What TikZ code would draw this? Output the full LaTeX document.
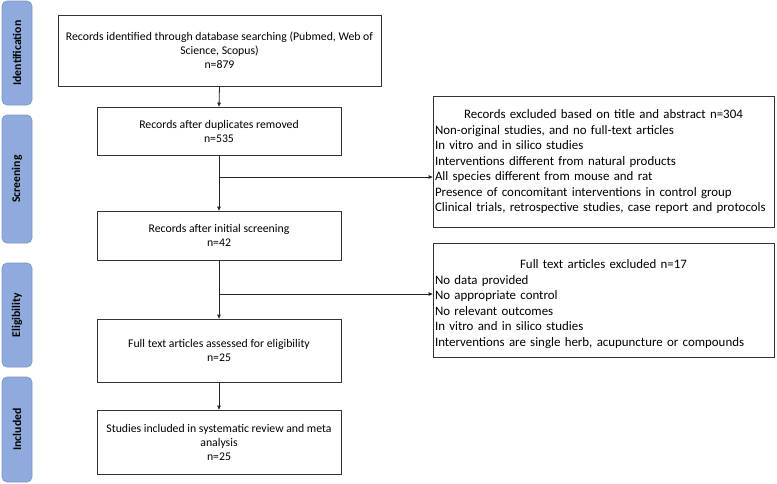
\documentclass[tikz,border=0pt]{standalone}
\usepackage{fontspec}
\setmainfont{Carlito}
\usetikzlibrary{arrows.meta}
\definecolor{tabfill}{HTML}{8FAADC}
\definecolor{tabdraw}{HTML}{7A95C6}
\tikzset{
  box/.style={draw=black!80, line width=0.8pt, inner sep=0pt, font=\fontsize{11.75}{14}\selectfont},
  rbox/.style={draw=black!80, line width=0.8pt, inner sep=0pt, font=\fontsize{12.9}{15.5}\selectfont},
  tab/.style={draw=tabdraw, fill=tabfill, rounded corners=5pt, line width=0.6pt, font=\fontsize{11.75}{12}\selectfont\bfseries, inner sep=0pt},
  arr/.style={-{Triangle[length=4pt,width=3.6pt]}, line width=0.8pt, black!85}
}
\begin{document}
\begin{tikzpicture}[x=1pt,y=-1pt]
\useasboundingbox (0,0) rectangle (777,483);
% side tabs
\node[tab, minimum width=30pt, minimum height=104pt] (t1) at (17,53) {\rotatebox{90}{Identification}};
\node[tab, minimum width=30pt, minimum height=128pt] (t2) at (17,179) {\rotatebox{90}{Screening}};
\node[tab, minimum width=30pt, minimum height=104pt] (t3) at (17,315) {\rotatebox{90}{Eligibility}};
\node[tab, minimum width=30pt, minimum height=105pt] (t4) at (17,429.5) {\rotatebox{90}{Included}};
% main boxes
\node[box, minimum width=323pt, minimum height=71pt, align=center] (b1) at (219.5,50.5)
  {Records identified through database searching (Pubmed, Web of\\ Science, Scopus)\\ n=879};
\node[box, minimum width=244pt, minimum height=48pt, align=center] (b2) at (219,131)
  {Records after duplicates removed\\ n=535};
\node[box, minimum width=244pt, minimum height=49pt, align=center] (b3) at (219,235.5)
  {Records after initial screening\\ n=42};
\node[box, minimum width=244pt, minimum height=63pt, align=center] (b4) at (219,350.5)
  {Full text articles assessed for eligibility\\ n=25};
\node[box, minimum width=244pt, minimum height=64pt, align=center] (b5) at (219,442)
  {Studies included in systematic review and meta\\ analysis\\ n=25};
% right boxes
\node[rbox, minimum width=341pt, minimum height=131pt, text width=337pt, align=left] (r1) at (603.5,162)
  {\makebox[337pt][c]{Records excluded based on title and abstract n=304}\\
   Non-original studies, and no full-text articles\\
   In vitro and in silico studies\\
   Interventions different from natural products\\
   All species different from mouse and rat\\
   Presence of concomitant interventions in control group\\
   Clinical trials, retrospective studies, case report and protocols};
\node[rbox, minimum width=341pt, minimum height=114pt, text width=337pt, align=left] (r2) at (603.5,300.5)
  {\makebox[337pt][c]{\rule{0pt}{16pt}Full text articles excluded n=17}\\
   No data provided\\
   No appropriate control\\
   No relevant outcomes\\
   In vitro and in silico studies\\
   Interventions are single herb, acupuncture or compounds};
% connectors
\coordinate (j1) at (219,177);
\coordinate (j2) at (219,294);
\draw[arr] (b1.south) -- (b2.north);
\draw[arr] (b2.south) -- (b3.north);
\draw[arr] (b3.south) -- (b4.north);
\draw[arr] (b4.south) -- (b5.north);
\draw[arr] (j1) -- (j1 -| r1.west);
\draw[arr] (j2) -- (j2 -| r2.west);
\end{tikzpicture}
\end{document}
